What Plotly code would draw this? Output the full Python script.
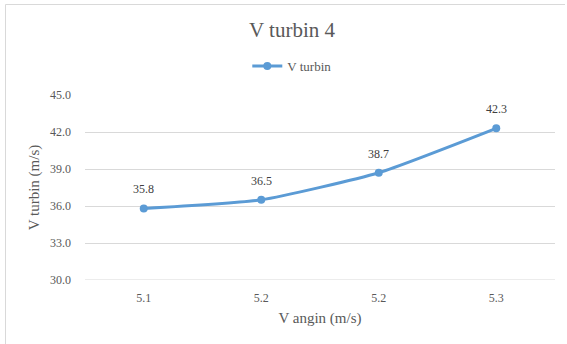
import plotly.graph_objects as go

# Wind speed (x) vs. turbine speed (y)
v_angin_labels = ["5.1", "5.2", "5.2", "5.3"]
v_turbin = [35.8, 36.5, 38.7, 42.3]
y_ticks = [30.0, 33.0, 36.0, 39.0, 42.0, 45.0]

positions = list(range(len(v_angin_labels)))
font_family = "Liberation Serif"
text_color = "#595959"
grid_color = "#d9d9d9"

fig = go.Figure()
fig.add_trace(go.Scatter(
    x=positions,
    y=v_turbin,
    mode="lines+markers",
    name="V turbin",
    line=dict(color="#5b9bd5", width=3, shape="spline", smoothing=0.5),
    marker=dict(color="#5b9bd5", size=8),
))

# Value labels above each point
for xp, v in zip(positions, v_turbin):
    fig.add_annotation(x=xp, y=v, text=f"{v:.1f}", showarrow=False,
                       yshift=19, font=dict(family=font_family, size=12, color="#404040"))

fig.update_layout(
    width=567,
    height=344,
    margin=dict(l=85, r=12, t=95, b=64),
    paper_bgcolor="white",
    plot_bgcolor="white",
    font=dict(family=font_family, color=text_color),
    title=dict(
        text="V turbin 4",
        x=0.515, xref="container", xanchor="center",
        y=1 - 30 / 344, yref="container", yanchor="middle",
        font=dict(family=font_family, size=21, color=text_color),
    ),
    legend=dict(
        orientation="h",
        x=0.44, xanchor="center",
        y=1.157, yanchor="middle",
        font=dict(family=font_family, size=13, color=text_color),
        itemwidth=30,
    ),
    showlegend=True,
    xaxis=dict(
        range=[-0.5, len(positions) - 0.5],
        tickmode="array",
        tickvals=positions,
        ticktext=v_angin_labels,
        showgrid=False,
        zeroline=False,
        showline=False,
        ticks="",
        ticklabelstandoff=9,
        tickfont=dict(family=font_family, size=12, color=text_color),
        title=dict(text="V angin (m/s)", standoff=8,
                   font=dict(family=font_family, size=15, color=text_color)),
    ),
    yaxis=dict(
        range=[30, 45],
        tickmode="array",
        tickvals=y_ticks,
        ticktext=[f"{t:.1f}" for t in y_ticks],
        showgrid=True,
        gridcolor=grid_color,
        gridwidth=1,
        zeroline=False,
        showline=False,
        ticks="",
        ticklabelstandoff=13,
        tickfont=dict(family=font_family, size=12, color=text_color),
        title=dict(text="V turbin (m/s)", standoff=6,
                   font=dict(family=font_family, size=15, color=text_color)),
    ),
)

# Bottom gridline at 30.0 spans the plot width
fig.add_shape(type="line", xref="paper", yref="y", x0=0, x1=1, y0=30, y1=30,
              line=dict(color=grid_color, width=1), layer="below")

# Chart-area frame (top and left edges)
frame_color = "#d9d9d9"
fig.add_shape(type="line", xref="paper", yref="paper",
              x0=(5.5 - 85) / 470, x1=(565 - 85) / 470,
              y0=1 + (95 - 4.5) / 185, y1=1 + (95 - 4.5) / 185,
              line=dict(color=frame_color, width=1))
fig.add_shape(type="line", xref="paper", yref="paper",
              x0=(5.5 - 85) / 470, x1=(5.5 - 85) / 470,
              y0=1 + (95 - 4.5) / 185, y1=(280 - 344) / 185,
              line=dict(color=frame_color, width=1))

fig.write_html("out.html")
